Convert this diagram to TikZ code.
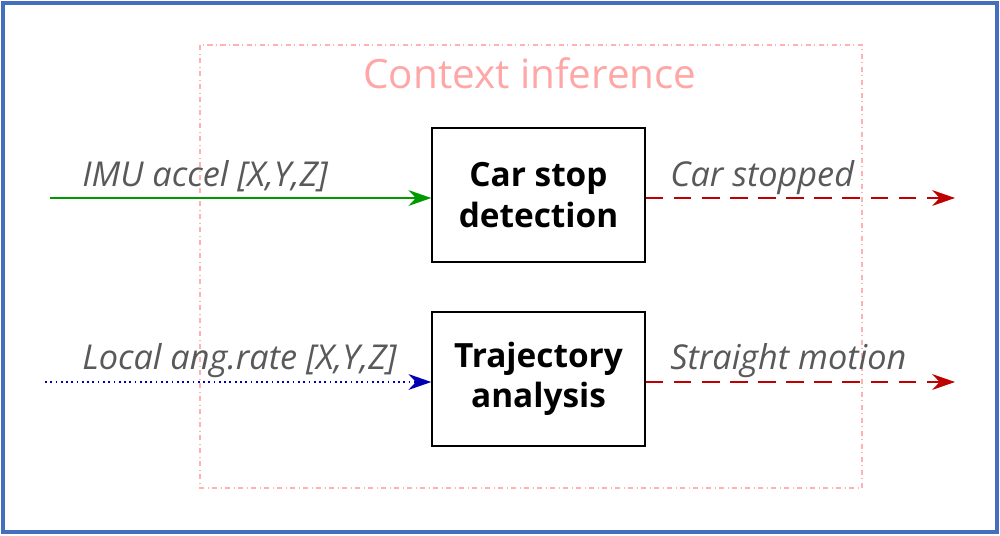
\documentclass[tikz,border=0pt]{standalone}
\usepackage{fontspec}
\setmainfont{Open Sans}
\usetikzlibrary{arrows.meta}
\definecolor{frame}{RGB}{70,110,190}
\begin{document}
\begin{tikzpicture}[x=0.02cm,y=-0.02cm,
  blk/.style={draw=black,line width=0.8pt,minimum width=213*0.02cm,minimum height=134*0.02cm,align=center,font=\fontsize{19}{23}\selectfont\bfseries,inner sep=0pt},
  lbl/.style={text=black!65,font=\fontsize{19.5}{23}\selectfont\itshape,anchor=base west,inner sep=0pt},
  tip/.style={-{Stealth[length=13pt,width=9pt]}}]
\useasboundingbox (0,0) rectangle (1000,535);
\draw[color=frame,line width=2pt] (3,3) rectangle (997,532);
\draw[color=red!30,dash dot,line width=0.8pt] (200,45) rectangle (862,488);
\node[text=red!35,font=\fontsize{23}{27}\selectfont] (title) at (530,73) {Context inference};
\node[blk] (b1) at (538.5,195) {Car stop\\detection};
\node[blk] (b2) at (538.5,379) {Trajectory\\analysis};
\coordinate (s1) at (50,198);
\coordinate (s2) at (45,382);
\coordinate (e1) at (955,198);
\coordinate (e2) at (955,382);
\draw[tip,color=green!60!black,line width=1pt] (s1) -- (b1.west|-s1);
\draw[tip,color=blue!70!black,dotted,line width=1pt] (s2) -- (b2.west|-s2);
\draw[tip,color=red!75!black,dash pattern=on 10pt off 6pt,line width=1pt] (b1.east|-e1) -- (e1);
\draw[tip,color=red!75!black,dash pattern=on 10pt off 6pt,line width=1pt] (b2.east|-e2) -- (e2);
\node[lbl] (l1) at (82,186) {IMU accel [X,Y,Z]};
\node[lbl] (l2) at (82,369) {Local ang.rate [X,Y,Z]};
\node[lbl] (l3) at (670,186) {Car stopped};
\node[lbl] (l4) at (670,369) {Straight motion};
\end{tikzpicture}
\end{document}
